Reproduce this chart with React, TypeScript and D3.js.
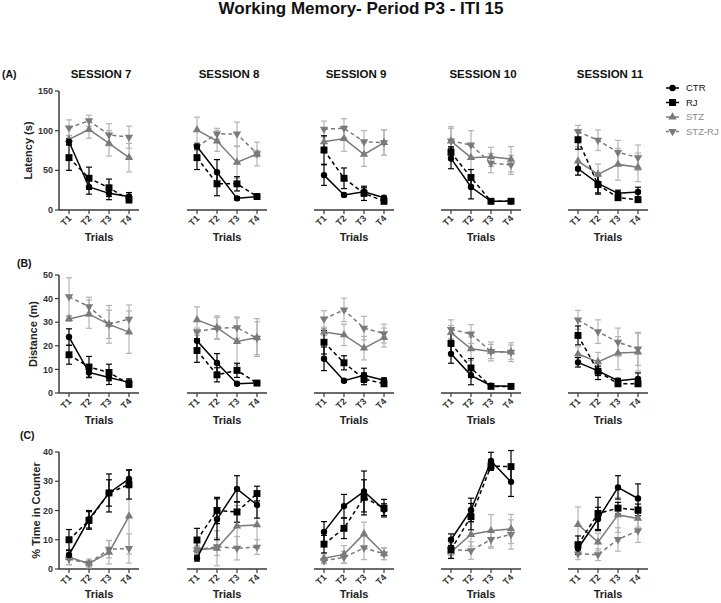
import React from 'react';
import * as d3 from 'd3';

const trials = ['T1', 'T2', 'T3', 'T4'];
const sessions = ['SESSION 7', 'SESSION 8', 'SESSION 9', 'SESSION 10', 'SESSION 11'];
const groups = ['CTR', 'RJ', 'STZ', 'STZ-RJ'];

// (A) latency (s) - one inner array per session
const latCTR = [[86, 29, 21, 17], [80, 47.5, 14.7, 16.8], [44, 19, 23, 15.5], [65, 29, 11, 11], [52, 33.6, 21, 22.7]];
const latCTRErr = [[4, 9, 8, 5], [3, 16, 2, 2], [13, 2, 5, 2], [13, 15, 1, 1], [8, 12, 4, 6]];
const latRJ = [[66, 40, 28, 13], [66, 33, 33, 17], [75.6, 40, 21, 11], [72.7, 41, 11, 11], [88.6, 32, 15.5, 13]];
const latRJErr = [[16, 14, 11, 4], [15, 15, 9, 2], [18, 13, 9, 3], [7, 10, 1, 1], [12, 12, 3, 2]];
const latSTZ = [[89, 101.5, 84, 66], [101, 87, 60, 70.6], [86, 90, 70, 85], [87, 66, 67, 64], [61.7, 45, 57.5, 53.8]];
const latSTZErr = [[5, 11, 16, 18], [16, 13, 20, 15], [7, 16, 15, 16], [16, 15, 12, 16], [18, 13, 20, 18]];
const latSTZRJ = [[103.6, 112.5, 94.8, 91.8], [80, 96, 95.8, 71], [102, 103, 86, 85], [87, 82, 59, 57], [98.7, 88, 72.7, 66]];
const latSTZRJErr = [[10, 7, 14, 14], [5, 7, 15, 4], [10, 12, 14, 16], [18, 18, 12, 12], [8, 13, 15, 16]];

// (B) distance (m)
const distCTR = [[23.7, 8.7, 6.6, 4.5], [22.1, 12.7, 3.9, 4.2], [14.5, 5.2, 7.5, 5.4], [16.6, 7.5, 3.1, 2.8], [13, 9.4, 5.2, 6]];
const distCTRErr = [[3.5, 2, 3, 1.5], [4, 4, 0.5, 0.5], [5, 0.5, 3, 1], [4, 4, 0.5, 0.5], [2, 2, 1, 2.5]];
const distRJ = [[16.2, 11, 8.7, 3.9], [18, 7.7, 9.6, 4.2], [21.5, 12.8, 6, 3.9], [21, 10.6, 2.8, 2.8], [24.4, 9.2, 3.9, 3.9]];
const distRJErr = [[4, 4.5, 3.5, 1.5], [5, 3, 3, 0.5], [5, 3, 2.5, 1], [4, 4, 0.5, 0.5], [4, 3.5, 1, 1]];
const distSTZ = [[31.4, 33.4, 29.1, 25.8], [31, 27.7, 21.8, 23.5], [25.8, 24.6, 19, 23.5], [25.6, 18.7, 17.6, 17.3], [16.5, 13.2, 16.9, 17.3]];
const distSTZErr = [[1, 6, 6, 9], [5.5, 5, 10, 8], [1.5, 4.5, 5, 4], [3, 5, 3, 3], [3, 4, 7, 8]];
const distSTZRJ = [[40.8, 36.6, 29.1, 31.3], [26, 27.5, 27.7, 23.2], [31.4, 35.2, 27.5, 25.2], [27, 25, 17.6, 17.3], [31, 26, 21.5, 18.7]];
const distSTZRJErr = [[8, 4, 8, 6], [1.5, 4.5, 4.5, 7], [3.5, 5, 5, 4], [4, 4, 4, 4], [4, 5, 6, 7]];

// (C) % time in counter
const cntCTR = [[4.8, 17, 26, 30.8], [3.7, 17, 27.4, 21.9], [12.7, 21.5, 26.5, 20.3], [10, 20.2, 36.9, 29.8], [7, 17.1, 27.9, 24.1]];
const cntCTRErr = [[1.5, 3, 6.5, 3], [1, 7, 4.5, 4.5], [3.5, 4, 7, 2], [2, 4, 3, 5], [2, 4, 4, 5]];
const cntRJ = [[10, 16.6, 26, 28.9], [9.9, 20, 19.5, 25.8], [8.5, 13.9, 24.5, 20.8], [6.6, 17.9, 35.2, 35], [8.3, 19, 20.8, 20.2]];
const cntRJErr = [[3.5, 3, 4.5, 5], [4, 4.5, 3.5, 2.5], [3, 3.5, 6, 3], [3, 4.5, 1.5, 5.5], [3, 5.5, 2, 2]];
const cntSTZ = [[4, 1.9, 5.7, 18.1], [6.6, 7.1, 14.7, 15.1], [3.7, 5, 12, 5.2], [5.8, 11.8, 13.1, 13.7], [15.2, 9.2, 18.5, 17.3]];
const cntSTZErr = [[2.5, 1.5, 4, 13], [1.5, 6, 7, 8], [1.5, 3, 4, 2], [2, 4, 5.5, 5], [6, 3, 6, 3]];
const cntSTZRJ = [[3.4, 1.9, 6.8, 7], [6.6, 7.6, 7.1, 7.5], [2.8, 4, 7.2, 5.2], [6.6, 6.3, 10.1, 11.8], [5.2, 4.9, 10.1, 13.1]];
const cntSTZRJErr = [[2, 1, 3, 5], [1, 3, 4, 2.5], [1, 2, 4, 2], [2, 3, 3, 5], [2, 2, 4, 4]];

const font = '"Liberation Sans", Arial, sans-serif';
const axisColor = '#3a3a3a';

const styles: Record<string, any> = {
  'CTR': { line: '#000', err: '#000', dash: null, sym: d3.symbolCircle, size: 32, rot: 0 },
  'RJ': { line: '#000', err: '#000', dash: '4,3', sym: d3.symbolSquare, size: 48, rot: 0 },
  'STZ': { line: '#7a7a7a', err: '#b4b4b4', dash: null, sym: d3.symbolTriangle, size: 30, rot: 0 },
  'STZ-RJ': { line: '#7a7a7a', err: '#b4b4b4', dash: '4,3', sym: d3.symbolTriangle, size: 30, rot: 180 },
};

const rows = [
  { tag: '(A)', tagX: 2, tagY: 78, top: 91, bottom: 210, max: 150, step: 50, label: 'Latency (s)', labelX: 32, showTitle: true, trialsDy: 31,
    data: { 'CTR': [latCTR, latCTRErr], 'RJ': [latRJ, latRJErr], 'STZ': [latSTZ, latSTZErr], 'STZ-RJ': [latSTZRJ, latSTZRJErr] } },
  { tag: '(B)', tagX: 17, tagY: 267, top: 275, bottom: 393, max: 50, step: 10, label: 'Distance (m)', labelX: 37, showTitle: false, trialsDy: 31,
    data: { 'CTR': [distCTR, distCTRErr], 'RJ': [distRJ, distRJErr], 'STZ': [distSTZ, distSTZErr], 'STZ-RJ': [distSTZRJ, distSTZRJErr] } },
  { tag: '(C)', tagX: 20, tagY: 439, top: 452, bottom: 569, max: 40, step: 10, label: '% Time in Counter', labelX: 40, showTitle: false, trialsDy: 29,
    data: { 'CTR': [cntCTR, cntCTRErr], 'RJ': [cntRJ, cntRJErr], 'STZ': [cntSTZ, cntSTZErr], 'STZ-RJ': [cntSTZRJ, cntSTZRJErr] } },
];

const colX = [59, 187, 314, 441, 568];
const drawOrder = ['STZ-RJ', 'STZ', 'RJ', 'CTR'];

function Panel({ row, col }: { row: any; col: number }) {
  const x0 = colX[col];
  const x = d3.scalePoint<string>().domain(trials).range([x0 + 10, x0 + 70]);
  const y = d3.scaleLinear().domain([0, row.max]).range([row.bottom, row.top]);
  const line = d3.line<number>().x((d, i) => x(trials[i]) as number).y(d => y(d));
  const ticks = d3.range(0, row.max + 0.1, row.step);

  return (
    <g>
      {/* x axis */}
      <line x1={x0} x2={x0 + 80} y1={row.bottom} y2={row.bottom} stroke={axisColor} strokeWidth={1.5} />
      {trials.map(t => (
        <g key={t} transform={`translate(${x(t)},${row.bottom})`}>
          <line y1={0} y2={4} stroke={axisColor} strokeWidth={1.2} />
          <text transform="translate(3,9) rotate(-45)" textAnchor="end" fontSize={9} fontWeight="bold" fill="#333" fontFamily={font}>{t}</text>
        </g>
      ))}
      <text x={x0 + 40} y={row.bottom + row.trialsDy} textAnchor="middle" fontSize={11} fontWeight="bold" fill="#222" fontFamily={font}>Trials</text>

      {/* y axis only on first column */}
      {col === 0 && (
        <g>
          <line x1={x0} x2={x0} y1={row.top} y2={row.bottom} stroke={axisColor} strokeWidth={1.5} />
          {ticks.map(v => (
            <g key={v} transform={`translate(${x0},${y(v)})`}>
              <line x1={-4} x2={0} stroke={axisColor} strokeWidth={1.2} />
              <text x={-6} dy="0.35em" textAnchor="end" fontSize={9} fontWeight="bold" fill="#333" fontFamily={font}>{v}</text>
            </g>
          ))}
          <text transform={`translate(${row.labelX},${(row.top + row.bottom) / 2}) rotate(-90)`} textAnchor="middle" fontSize={11} fontWeight="bold" fill="#222" fontFamily={font}>{row.label}</text>
        </g>
      )}

      {/* error bars */}
      {drawOrder.map(g => {
        const [means, errs] = row.data[g];
        const st = styles[g];
        return means[col].map((m: number, i: number) => {
          const cx = x(trials[i]) as number;
          const e = errs[col][i];
          return (
            <g key={g + i} stroke={st.err} strokeWidth={1.2}>
              <line x1={cx} x2={cx} y1={y(m - e)} y2={y(m + e)} />
              <line x1={cx - 3} x2={cx + 3} y1={y(m + e)} y2={y(m + e)} />
              <line x1={cx - 3} x2={cx + 3} y1={y(m - e)} y2={y(m - e)} />
            </g>
          );
        });
      })}

      {/* lines + markers */}
      {drawOrder.map(g => {
        const [means] = row.data[g];
        const st = styles[g];
        const sym = d3.symbol().type(st.sym).size(st.size)();
        return (
          <g key={g}>
            <path d={line(means[col]) || ''} fill="none" stroke={st.line} strokeWidth={1.5} strokeDasharray={st.dash || undefined} />
            {means[col].map((m: number, i: number) => (
              <path key={i} d={sym as string} fill={st.line} transform={`translate(${x(trials[i])},${y(m)}) rotate(${st.rot})`} />
            ))}
          </g>
        );
      })}

      {row.showTitle && (
        <text x={x0 + 42} y={78} textAnchor="middle" fontSize={11.5} fontWeight="bold" fill="#111" fontFamily={font}>{sessions[col]}</text>
      )}
    </g>
  );
}

function Legend() {
  const lx = 666;
  return (
    <g>
      {groups.map((g, i) => {
        const st = styles[g];
        const yy = 88 + i * 14.5;
        const sym = d3.symbol().type(st.sym).size(st.size)();
        const textColor = g === 'CTR' || g === 'RJ' ? '#111' : '#8a8a8a';
        return (
          <g key={g}>
            <line x1={lx} x2={lx + 13} y1={yy} y2={yy} stroke={st.line} strokeWidth={1.5} strokeDasharray={st.dash ? '3,2' : undefined} />
            <path d={sym as string} fill={st.line} transform={`translate(${lx + 6.5},${yy}) rotate(${st.rot})`} />
            <text x={lx + 20} y={yy} dy="0.35em" fontSize={9.5} fill={textColor} fontFamily={font}>{g}</text>
          </g>
        );
      })}
    </g>
  );
}

export default function App() {
  return (
    <div style={{ position: 'absolute', left: 0, top: 0 }}>
      <svg width={721} height={603} style={{ display: 'block', background: '#fff' }}>
        <text x={361} y={14} textAnchor="middle" fontSize={17} fontWeight="bold" fill="#111" fontFamily={font}>Working Memory- Period P3 - ITI 15</text>
        {rows.map((row, r) => (
          <g key={r}>
            <text x={row.tagX} y={row.tagY} fontSize={10.5} fontWeight="bold" fill="#111" fontFamily={font}>{row.tag}</text>
            {sessions.map((s, c) => <Panel key={s} row={row} col={c} />)}
          </g>
        ))}
        <Legend />
      </svg>
    </div>
  );
}
